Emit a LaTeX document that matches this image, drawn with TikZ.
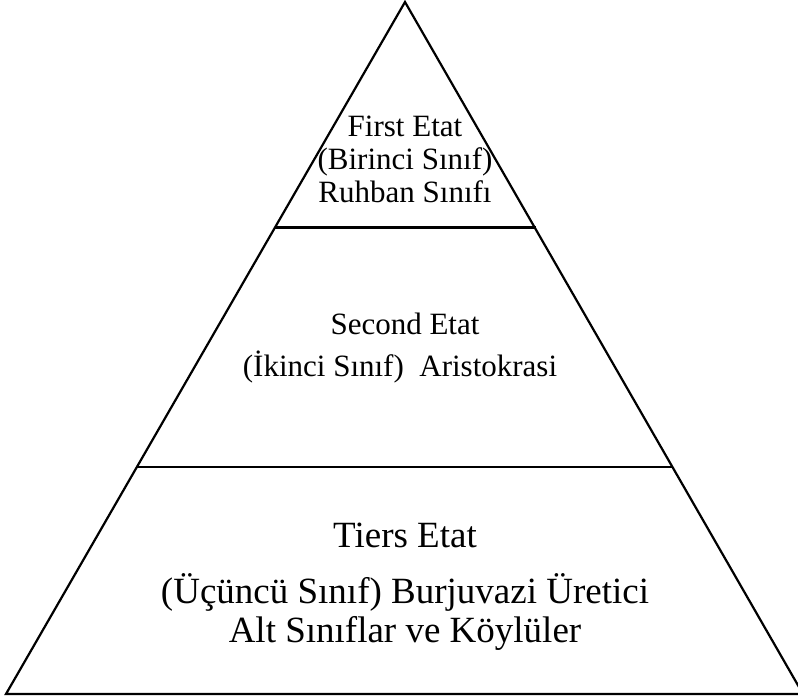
\documentclass[tikz,border=0pt]{standalone}
\usepackage{fontspec}
\setmainfont{Liberation Serif}
\begin{document}
\begin{tikzpicture}[x=1pt,y=-1pt,
  edge/.style={line width=2.2pt,line join=miter},
  small/.style={anchor=base,inner sep=0pt,font=\fontsize{31}{34}\selectfont},
  big/.style={anchor=base,inner sep=0pt,font=\fontsize{37}{40}\selectfont}]
\useasboundingbox (0,0) rectangle (798,700);
\coordinate (A) at (405,2);
\coordinate (L) at (6,694);
\coordinate (R) at (803,694);
\coordinate (t1) at (275,227.5);
\coordinate (t2) at (536,227.5);
\coordinate (m1) at (137,467);
\coordinate (m2) at (673,467);
\draw[edge] (L) -- (A) -- (R) -- cycle;
\draw[edge] (t1) -- (t2);
\draw[edge] (m1) -- (m2);
% top
\node[small] (f1) at (405,137) {First Etat};
\node[small] (f2) at (405,170) {(Birinci Sınıf)};
\node[small] (f3) at (405,203) {Ruhban Sınıfı};
% middle
\node[small] (s1) at (405,335) {Second Etat};
\node[small] (s2) at (400,377) {(İkinci Sınıf)\ \ Aristokrasi};
% bottom
\node[big] (b1) at (405,547) {Tiers Etat};
\node[big] (b2) at (405,603) {(Üçüncü Sınıf) Burjuvazi Üretici};
\node[big] (b3) at (405,642) {Alt Sınıflar ve Köylüler};
\end{tikzpicture}
\end{document}
